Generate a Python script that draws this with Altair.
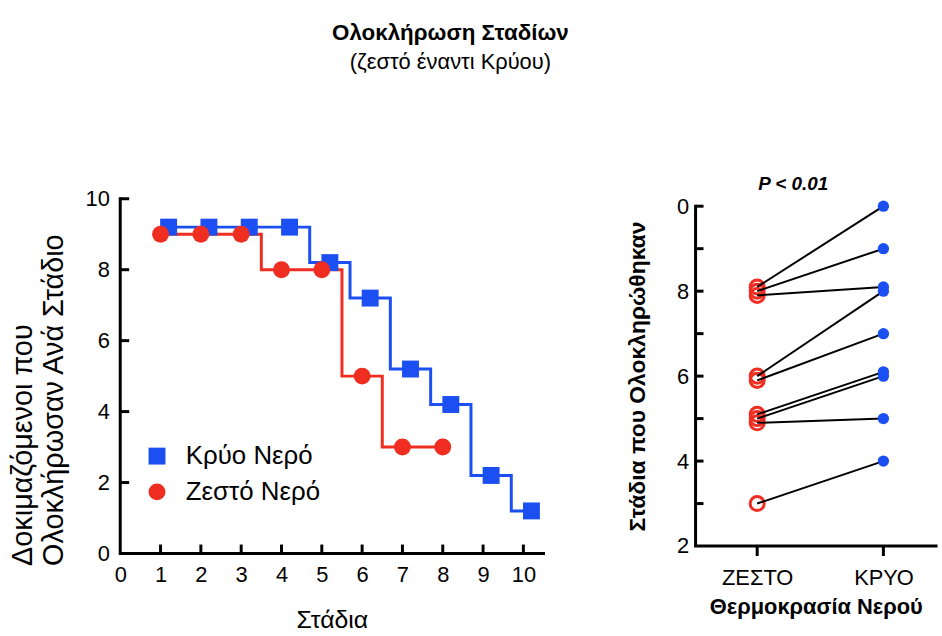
import altair as alt
import pandas as pd

# ---------------- data ----------------
series_names = ["Κρύο Νερό", "Ζεστό Νερό"]

cold_x = [1.2, 2.2, 3.2, 4.2, 5.2, 6.2, 7.2, 8.2, 9.2, 10.2]
cold_y = [9.2, 9.2, 9.2, 9.2, 8.2, 7.2, 5.2, 4.2, 2.2, 1.2]
hot_x = [1, 2, 3, 4, 5, 6, 7, 8]
hot_y = [9, 9, 9, 8, 8, 5, 3, 3]

conditions = ["ΖΕΣΤΟ", "ΚΡΥΟ"]
pair_hot = [8.1, 8.0, 7.9, 6.0, 5.9, 5.1, 5.0, 4.9, 3.0]
pair_cold = [10.0, 9.0, 8.1, 8.0, 7.0, 6.1, 6.0, 5.0, 4.0]

x_ticks = list(range(0, 11))
y_ticks = [0, 2, 4, 6, 8, 10]
r_ticks = list(range(2, 11))

x_domain = [0, 10.5]
y_domain = [0, 10]
r_domain = [2, 10]
c_domain = [-0.488, 1.417]   # category axis range (category index units)

BLUE = "#1c4ff2"
RED = "#ef2d20"
FONT = "Liberation Sans"

LW, LH = 426, 357     # left plot size
RW, RH = 242, 342     # right plot size

# ---------------- left chart ----------------
left_df = pd.DataFrame({
    "x": cold_x + hot_x,
    "y": cold_y + hot_y,
    "s": [series_names[0]] * len(cold_x) + [series_names[1]] * len(hot_x),
})

cscale = alt.Scale(domain=series_names, range=[BLUE, RED])
sscale = alt.Scale(domain=series_names, range=["square", "circle"])

lx = alt.X("x:Q", scale=alt.Scale(domain=x_domain, nice=False),
           axis=alt.Axis(values=x_ticks, title="Στάδια", ticks=False, domain=False,
                         labelPadding=11, titlePadding=22, labelFontSize=22,
                         titleFontSize=25, titleFontWeight="normal"))
ly = alt.Y("y:Q", scale=alt.Scale(domain=y_domain, nice=False),
           axis=alt.Axis(values=y_ticks, title=["Δοκιμαζόμενοι που", "Ολοκλήρωσαν Ανά  Στάδιο"],
                         ticks=False, domain=False, labelPadding=11, titlePadding=17,
                         labelFontSize=22, titleFontSize=29, titleFontWeight="normal",
                         titleLineHeight=31, titleAlign="left", titleAnchor="start",
                         titleY=369))

leg = dict(title=None, orient="none", legendX=24, legendY=246, labelFontSize=26,
           labelOffset=16, symbolSize=290, rowPadding=10, padding=0,
           labelFont=FONT, labelColor="black", symbolStrokeWidth=0)

base = alt.Chart(left_df)
step_cold = base.transform_filter(alt.datum.s == series_names[0]).mark_line(
    interpolate="step", strokeWidth=3, color=BLUE).encode(x=lx, y=ly)
step_hot = base.transform_filter(alt.datum.s == series_names[1]).mark_line(
    interpolate="step", strokeWidth=3, color=RED).encode(x=lx, y=ly)
pts = base.mark_point(filled=True, size=290, opacity=1).encode(
    x=lx, y=ly,
    color=alt.Color("s:N", scale=cscale, legend=alt.Legend(**leg)),
    shape=alt.Shape("s:N", scale=sscale, legend=alt.Legend(**leg)),
)
# inward-pointing tick marks
xt = alt.Chart(pd.DataFrame({"x": x_ticks[1:]})).mark_rule(
    color="black", strokeWidth=3).encode(x=lx, y=alt.value(LH), y2=alt.value(LH - 9))
yt = alt.Chart(pd.DataFrame({"y": y_ticks[1:]})).mark_rule(
    color="black", strokeWidth=3).encode(y=ly, x=alt.value(0), x2=alt.value(9))
# L-shaped axis frame as one path through the scales
frame_l = pd.DataFrame({"x": [x_domain[0], x_domain[0], x_domain[1]],
                        "y": [y_domain[1], y_domain[0], y_domain[0]],
                        "o": [0, 1, 2]})
l_frame = alt.Chart(frame_l).mark_line(
    color="black", strokeWidth=3, strokeJoin="miter", strokeCap="square"
).encode(x=lx, y=ly, order="o:Q")

left = alt.layer(l_frame, step_hot, step_cold, pts, xt, yt).properties(
    width=LW, height=LH)

# ---------------- right chart ----------------
right_df = pd.DataFrame({
    "pair": list(range(len(pair_hot))) * 2,
    "cond": [conditions[0]] * len(pair_hot) + [conditions[1]] * len(pair_cold),
    "v": pair_hot + pair_cold,
})
right_df["ci"] = right_df["cond"].map({c: i for i, c in enumerate(conditions)})

cat_label = f"datum.value == 0 ? '{conditions[0]}' : '{conditions[1]}'"
rx = alt.X("ci:Q", scale=alt.Scale(domain=c_domain, nice=False, zero=False),
           axis=alt.Axis(values=[0, 1], labelExpr=cat_label,
                         title="Θερμοκρασία Νερού", labelAngle=0, ticks=False, domain=False,
                         labelPadding=22, labelFontSize=22, titleFontSize=22,
                         titleFontWeight="bold", titlePadding=8))
ry = alt.Y("v:Q", scale=alt.Scale(domain=r_domain, nice=False, zero=False),
           axis=alt.Axis(values=r_ticks, ticks=False, domain=False,
                         labelExpr="datum.value % 2 == 0 ? (datum.value == 10 ? '0' : datum.label) : ''",
                         labelPadding=7, labelFontSize=22,
                         title="Στάδια που Ολοκληρώθηκαν", titleFontSize=23,
                         titleFontWeight="bold", titlePadding=27))

rbase = alt.Chart(right_df)
hot_pts = rbase.transform_filter(alt.datum.ci == 0).mark_point(
    shape="circle", filled=False, color=RED, strokeWidth=3, size=200, opacity=1
).encode(x=rx, y=ry)
pair_lines = rbase.mark_line(color="black", strokeWidth=2).encode(
    x=rx, y=ry, detail="pair:N")
cold_pts = rbase.transform_filter(alt.datum.ci == 1).mark_circle(
    color=BLUE, size=130, opacity=1
).encode(x=rx, y=ry)
rt = alt.Chart(pd.DataFrame({"v": r_ticks[1:]})).mark_rule(
    color="black", strokeWidth=3).encode(y=ry, x=alt.value(0), x2=alt.value(8))
rxt = alt.Chart(pd.DataFrame({"ci": [0, 1]})).mark_rule(
    color="black", strokeWidth=3).encode(x=rx, y=alt.value(RH), y2=alt.value(RH + 10))
frame_r = pd.DataFrame({"ci": [c_domain[0], c_domain[0], c_domain[1]],
                        "v": [r_domain[1], r_domain[0], r_domain[0]],
                        "o": [0, 1, 2]})
r_frame = alt.Chart(frame_r).mark_line(
    color="black", strokeWidth=3, strokeJoin="miter", strokeCap="square"
).encode(x=rx, y=ry, order="o:Q")

right = alt.layer(r_frame, hot_pts, pair_lines, cold_pts, rt, rxt).properties(
    width=RW, height=RH,
    title=alt.TitleParams("P < 0.01", anchor="start", frame="group", dx=63, fontSize=19,
                          fontStyle="italic", fontWeight="bold", offset=1,
                          font=FONT, color="black"))

chart = alt.hconcat(left, right, spacing=153, center=True, bounds="flush").properties(
    title=alt.TitleParams(
        text="Ολοκλήρωση Σταδίων", subtitle="(ζεστό έναντι Κρύου)",
        fontSize=22.5, fontWeight="bold", subtitleFontSize=22, subtitlePadding=8,
        font=FONT, subtitleFont=FONT, color="black", subtitleColor="black",
        anchor="middle", dx=-25, offset=103),
    padding={"left": 8, "top": 20, "right": 0, "bottom": 0},
    background="white",
).configure_view(stroke=None).configure_axis(
    labelColor="black", titleColor="black", labelFont=FONT, titleFont=FONT,
    grid=False, labelFlush=False,
)

chart.save("out.html", embed_options={"renderer": "svg", "actions": False})
